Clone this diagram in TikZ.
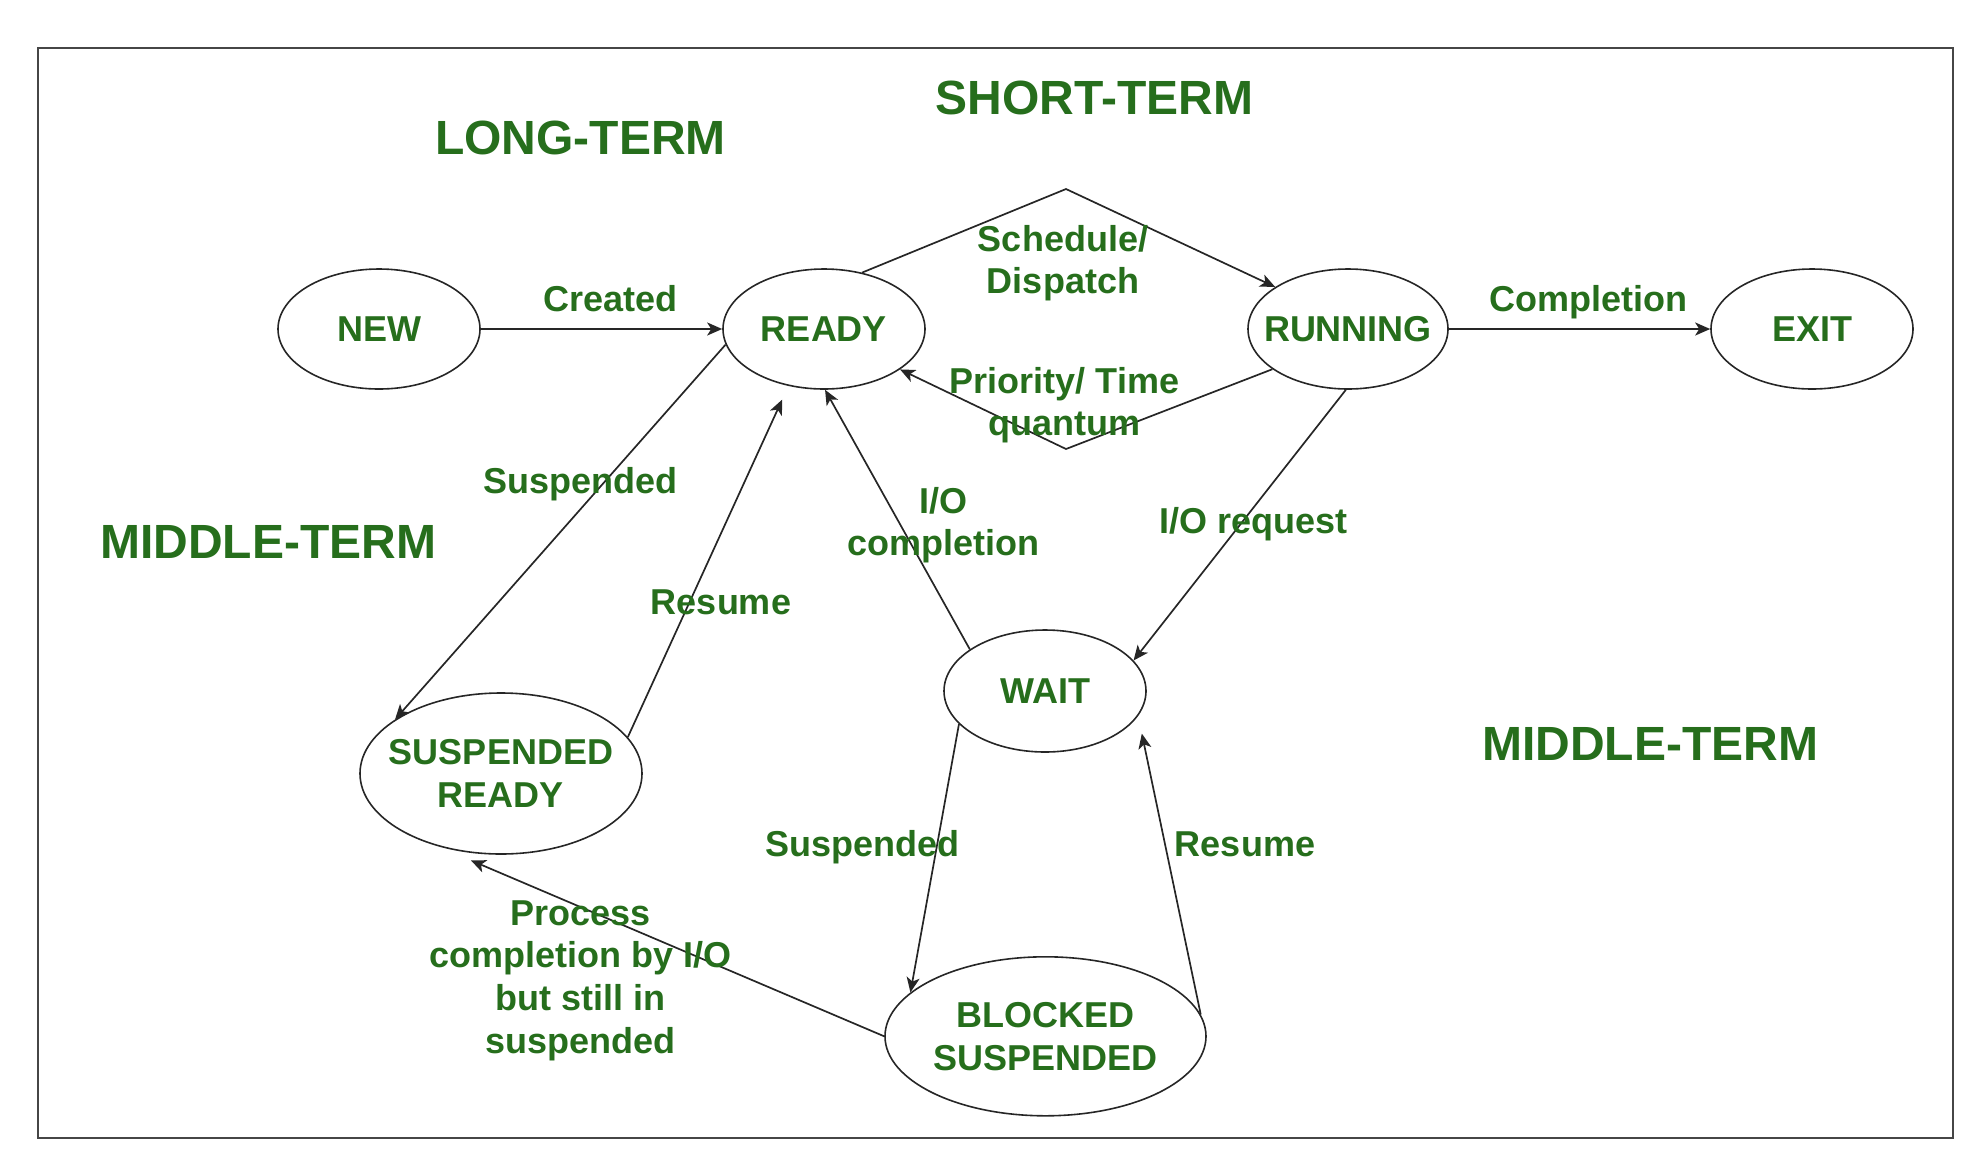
\documentclass[tikz,border=0pt]{standalone}
\usepackage{fontspec}
\setmainfont{Liberation Sans}
\usetikzlibrary{shapes.geometric,arrows.meta}
\definecolor{lbl}{RGB}{38,110,28}
\definecolor{frm}{RGB}{70,70,70}
\begin{document}
\begin{tikzpicture}[x=0.5pt,y=-0.5pt,
  st/.style={ellipse,draw=black!85,line width=0.8pt,inner sep=0pt},
  sttxt/.style={text=lbl,font=\fontsize{18}{21.3}\selectfont\bfseries,align=center,inner sep=0pt},
  lab/.style={text=lbl,font=\fontsize{18}{21.3}\selectfont\bfseries,align=center,inner sep=0pt},
  big/.style={text=lbl,font=\fontsize{24}{28}\selectfont\bfseries,inner sep=0pt},
  arr/.style={draw=black!85,line width=0.85pt,-{Stealth[length=7.5pt,width=6.5pt,inset=2pt]}},
]
\useasboundingbox (0,0) rectangle (1966,1158);
\draw[frm,line width=1pt] (37.6,47.6) rectangle (1953,1138);

% states
\node[st,minimum width=101pt,minimum height=60pt,label={[sttxt]center:NEW}] (new) at (379,329) {};
\node[st,minimum width=101pt,minimum height=60pt,label={[sttxt]center:READY}] (ready) at (824,329) {};
\node[st,minimum width=100pt,minimum height=60pt,label={[sttxt]center:RUNNING}] (run) at (1348,329) {};
\node[st,minimum width=101pt,minimum height=60pt,label={[sttxt]center:EXIT}] (exit) at (1812,329) {};
\node[st,minimum width=101pt,minimum height=61pt,label={[sttxt]center:WAIT}] (wait) at (1045,691) {};
\node[st,minimum width=141pt,minimum height=80.5pt,label={[sttxt]center:SUSPENDED\\READY}] (susp) at (501,773.5) {};
\node[st,minimum width=160.5pt,minimum height=79.5pt,label={[sttxt]center:BLOCKED\\SUSPENDED}] (blk) at (1045.5,1036.3) {};

% big headings
\node[big] (hshort) at (1094.6,97.8) {SHORT-TERM};
\node[big] (hlong) at (580.5,137.9) {LONG-TERM};
\node[big] (hmidl) at (268.3,541.6) {MIDDLE-TERM};
\node[big] (hmidr) at (1650,743.5) {MIDDLE-TERM};

% connectors
\coordinate (dtop) at (1066,189);
\coordinate (dbot) at (1066,449);
\draw[arr,line width=1.1pt] (new) -- (ready);
\draw[arr] (ready.56) -- (dtop) -- (run.150);
\draw[arr] (run.208) -- (dbot) -- (ready.-28);
\draw[arr,line width=1.1pt] (run) -- (exit);
\draw[arr] (ready.189) -- (susp.153);
\draw[arr,shorten >=7.5pt] (susp.16) -- (ready.238);
\draw[arr] (wait.151) -- (ready.-89);
\draw[arr] (run.268) -- (wait.19);
\draw[arr] (wait.201) -- (blk.162);
\draw[arr,shorten >=9pt] (blk.8) -- (wait.-15);
\draw[arr,shorten >=18pt] (blk.180) -- (susp.229);

% labels
\node[lab] (lcreated) at (610.6,298.4) {Created};
\node[lab] (lsched) at (1063,263) {Schedule/\\Dispatch};
\node[lab] (lprio) at (1064.5,405) {Priority/ Time\\quantum};
\node[lab] (lcompl) at (1588.6,302.5) {Completion};
\node[lab] (lsusp1) at (580.5,484.5) {Suspended};
\node[lab] (lres1) at (721,602) {Resume};
\node[lab] (liocomp) at (943,525) {I/O\\completion};
\node[lab] (lioreq) at (1253.8,524.5) {I/O request};
\node[lab] (lsusp2) at (862.6,847) {Suspended};
\node[lab] (lres2) at (1245,844) {Resume};
\node[lab] (lproc) at (580.5,980.5) {Process\\completion by I/O\\but still in\\suspended};
\end{tikzpicture}
\end{document}
